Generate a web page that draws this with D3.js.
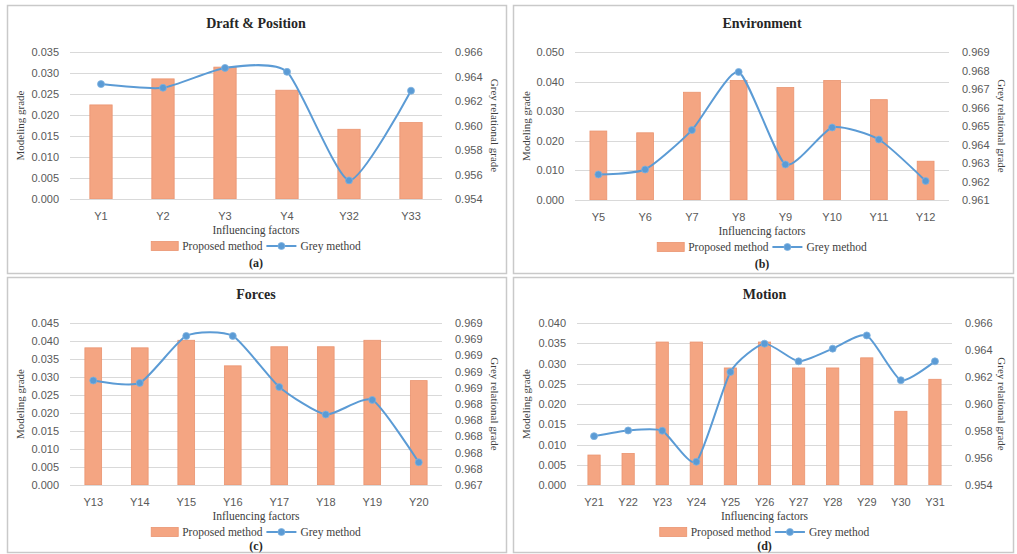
<!DOCTYPE html>
<html>
<head>
<meta charset="utf-8">
<script src="https://cdn.jsdelivr.net/npm/d3@7"></script>
<style>
  body { margin: 0; background: #fff; }
  svg { display: block; font-family: "Liberation Serif", "Times New Roman", serif; }
</style>
</head>
<body>
<svg id="chart" width="1017" height="554"></svg>
<script>
// data
var catsA = ["Y1", "Y2", "Y3", "Y4", "Y32", "Y33"];
var proposedA = [0.0224, 0.0286, 0.0314, 0.0259, 0.0166, 0.0182];
var greyA = [0.96338, 0.96308, 0.96470, 0.96438, 0.95552, 0.96284];
var leftTicksA = [0, 0.005, 0.010, 0.015, 0.020, 0.025, 0.030, 0.035];
var rightTicksA = [0.954, 0.956, 0.958, 0.960, 0.962, 0.964, 0.966];

var catsB = ["Y5", "Y6", "Y7", "Y8", "Y9", "Y10", "Y11", "Y12"];
var proposedB = [0.0233, 0.0227, 0.0364, 0.0404, 0.0380, 0.0404, 0.0339, 0.0131];
var greyB = [0.96238, 0.96265, 0.96478, 0.96792, 0.96292, 0.96492, 0.96427, 0.96203];
var leftTicksB = [0, 0.010, 0.020, 0.030, 0.040, 0.050];
var rightTicksB = [0.961, 0.962, 0.963, 0.964, 0.965, 0.966, 0.967, 0.968, 0.969];

var catsC = ["Y13", "Y14", "Y15", "Y16", "Y17", "Y18", "Y19", "Y20"];
var proposedC = [0.0381, 0.0381, 0.0402, 0.0331, 0.0384, 0.0384, 0.0402, 0.0290];
var greyC = [0.96869, 0.96866, 0.96924, 0.96924, 0.96861, 0.96827, 0.96845, 0.96768];
var leftTicksC = [0, 0.005, 0.010, 0.015, 0.020, 0.025, 0.030, 0.035, 0.040, 0.045];
var rightTicksC = [0.9674, 0.9676, 0.9678, 0.9680, 0.9682, 0.9684, 0.9686, 0.9688, 0.9690, 0.9692, 0.9694];

var catsD = ["Y21", "Y22", "Y23", "Y24", "Y25", "Y26", "Y27", "Y28", "Y29", "Y30", "Y31"];
var proposedD = [0.0074, 0.0078, 0.0353, 0.0353, 0.0289, 0.0353, 0.0289, 0.0289, 0.0314, 0.0182, 0.0261];
var greyD = [0.95762, 0.95804, 0.95802, 0.95572, 0.96237, 0.96447, 0.96316, 0.96410, 0.96508, 0.96176, 0.96316];
var leftTicksD = [0, 0.005, 0.010, 0.015, 0.020, 0.025, 0.030, 0.035, 0.040];
var rightTicksD = [0.954, 0.956, 0.958, 0.960, 0.962, 0.964, 0.966];

var titles = ["Draft & Position", "Environment", "Forces", "Motion"];
var letters = ["(a)", "(b)", "(c)", "(d)"];

var barColor = "#F4A582",
    barEdge = "#EA9470",
    lineColor = "#5B9BD5",
    gridColor = "#D9D9D9",
    textColor = "#595959";

var svg = d3.select("#chart");

var panels = [
  { x: 7,   y: 5,   w: 499, h: 268, top: 47, bottom: 194, left: 63, right: 435, lastGap: 64,
    cats: catsA, bars: proposedA, line: greyA, lt: leftTicksA, rt: rightTicksA },
  { x: 513, y: 5,   w: 500, h: 268, top: 47, bottom: 195, left: 62, right: 436, lastGap: 64,
    cats: catsB, bars: proposedB, line: greyB, lt: leftTicksB, rt: rightTicksB },
  { x: 7,   y: 277, w: 499, h: 275, top: 46, bottom: 208, left: 63, right: 435, lastGap: 61,
    cats: catsC, bars: proposedC, line: greyC, lt: leftTicksC, rt: rightTicksC },
  { x: 513, y: 277, w: 500, h: 275, top: 46, bottom: 208, left: 64, right: 439, lastGap: 61,
    cats: catsD, bars: proposedD, line: greyD, lt: leftTicksD, rt: rightTicksD }
];

panels.forEach(function(p, i) { drawPanel(p, titles[i], letters[i]); });


function drawPanel(p, title, letter) {

	var g = svg.append("g")
			.attr("transform", "translate(" + p.x + "," + p.y + ")");

	g.append("rect")
		.attr("x", 0.5).attr("y", 0.5)
		.attr("width", p.w).attr("height", p.h)
		.attr("fill", "#fff")
		.attr("stroke", "#C9C9C9")
		.attr("stroke-width", 1.5);

	var x = d3.scaleBand()
			.domain(p.cats)
			.range([p.left, p.right]);

	var yL = d3.scaleLinear()
			.domain([p.lt[0], p.lt[p.lt.length - 1]])
			.range([p.bottom, p.top]);

	var yR = d3.scaleLinear()
			.domain([p.rt[0], p.rt[p.rt.length - 1]])
			.range([p.bottom, p.top]);

	// gridlines follow the left axis
	g.append("g")
		.selectAll("line")
		.data(p.lt.slice(1))
		.enter().append("line")
		.attr("x1", p.left).attr("x2", p.right)
		.attr("y1", function(d) { return Math.round(yL(d)) + 0.5; })
		.attr("y2", function(d) { return Math.round(yL(d)) + 0.5; })
		.attr("stroke", gridColor);

	var leftAxis = d3.axisLeft(yL)
			.tickValues(p.lt)
			.tickFormat(d3.format(".3f"))
			.tickSize(0)
			.tickPadding(11);

	var rightAxis = d3.axisRight(yR)
			.tickValues(p.rt)
			.tickFormat(d3.format(".3f"))
			.tickSize(0)
			.tickPadding(13);

	var bottomAxis = d3.axisBottom(x)
			.tickSize(0)
			.tickPadding(13);

	[[leftAxis, p.left, 0], [rightAxis, p.right, 0], [bottomAxis, 0, p.bottom]]
		.forEach(function(a) {
			var ax = g.append("g")
					.attr("transform", "translate(" + a[1] + "," + a[2] + ")")
					.call(a[0]);
			ax.select(".domain").remove();
			ax.selectAll("text")
				.attr("fill", textColor)
				.style("font-size", "11px");
		});

	var bw = x.bandwidth() * 0.36;

	g.append("g")
		.selectAll("rect")
		.data(p.bars)
		.enter().append("rect")
		.attr("x", function(d, i) { return x(p.cats[i]) + (x.bandwidth() - bw) / 2; })
		.attr("y", function(d) { return yL(d); })
		.attr("width", bw)
		.attr("height", function(d) { return p.bottom - yL(d); })
		.attr("fill", barColor)
		.attr("stroke", barEdge)
		.attr("stroke-width", 0.8);

	// baseline
	g.append("line")
		.attr("x1", p.left).attr("x2", p.right)
		.attr("y1", p.bottom + 0.5).attr("y2", p.bottom + 0.5)
		.attr("stroke", gridColor);

	var line = d3.line()
			.x(function(d, i) { return x(p.cats[i]) + x.bandwidth() / 2; })
			.y(function(d) { return yR(d); })
			.curve(d3.curveCardinal.tension(0.4));

	g.append("path")
		.datum(p.line)
		.attr("d", line)
		.attr("fill", "none")
		.attr("stroke", lineColor)
		.attr("stroke-width", 2);

	g.append("g")
		.selectAll("circle")
		.data(p.line)
		.enter().append("circle")
		.attr("cx", function(d, i) { return x(p.cats[i]) + x.bandwidth() / 2; })
		.attr("cy", function(d) { return yR(d); })
		.attr("r", 3.5)
		.attr("fill", lineColor)
		.attr("stroke", "#7FB2E0")
		.attr("stroke-width", 0.8);

	var cx = (p.left + p.right) / 2;

	g.append("text")
		.attr("x", cx).attr("y", p.top - 24)
		.attr("text-anchor", "middle")
		.style("font-size", "14px")
		.style("font-weight", "bold")
		.attr("fill", "#262626")
		.text(title);

	g.append("text")
		.attr("transform", "translate(" + 13 + "," + (p.top + p.bottom) / 2 + ") rotate(-90)")
		.attr("text-anchor", "middle")
		.attr("dy", "0.35em")
		.style("font-size", "11px")
		.attr("fill", "#404040")
		.text("Modeling grade");

	g.append("text")
		.attr("transform", "translate(" + (p.w - 11) + "," + (p.top + p.bottom) / 2 + ") rotate(90)")
		.attr("text-anchor", "middle")
		.attr("dy", "0.35em")
		.style("font-size", "11px")
		.attr("fill", "#404040")
		.text("Grey relational grade");

	g.append("text")
		.attr("x", cx).attr("y", p.bottom + 31)
		.attr("text-anchor", "middle")
		.attr("dy", "0.35em")
		.style("font-size", "11.5px")
		.attr("fill", "#404040")
		.text("Influencing factors");

	// legend
	var leg = g.append("g")
			.attr("transform", "translate(0," + (p.bottom + 47) + ")");

	var t1 = leg.append("text")
			.attr("dy", "0.35em")
			.style("font-size", "11.5px")
			.attr("fill", "#404040")
			.text("Proposed method");
	var t2 = leg.append("text")
			.attr("dy", "0.35em")
			.style("font-size", "11.5px")
			.attr("fill", "#404040")
			.text("Grey method");

	var w1 = t1.node().getComputedTextLength(),
		w2 = t2.node().getComputedTextLength();
	var total = 27 + 4 + w1 + 4 + 30 + 4 + w2;
	var lx = cx - total / 2;

	leg.append("rect")
		.attr("x", lx).attr("y", -4.5)
		.attr("width", 27).attr("height", 9)
		.attr("fill", barColor)
		.attr("stroke", barEdge)
		.attr("stroke-width", 0.8);
	t1.attr("x", lx + 31);
	var sx = lx + 31 + w1 + 4;
	leg.append("line")
		.attr("x1", sx).attr("x2", sx + 30)
		.attr("stroke", lineColor)
		.attr("stroke-width", 2);
	leg.append("circle")
		.attr("cx", sx + 15).attr("r", 3.5)
		.attr("fill", lineColor)
		.attr("stroke", "#7FB2E0")
		.attr("stroke-width", 0.8);
	t2.attr("x", sx + 34);

	g.append("text")
		.attr("x", cx).attr("y", p.bottom + p.lastGap)
		.attr("text-anchor", "middle")
		.attr("dy", "0.35em")
		.style("font-size", "12px")
		.style("font-weight", "bold")
		.attr("fill", "#262626")
		.text(letter);
}
</script>
</body>
</html>
